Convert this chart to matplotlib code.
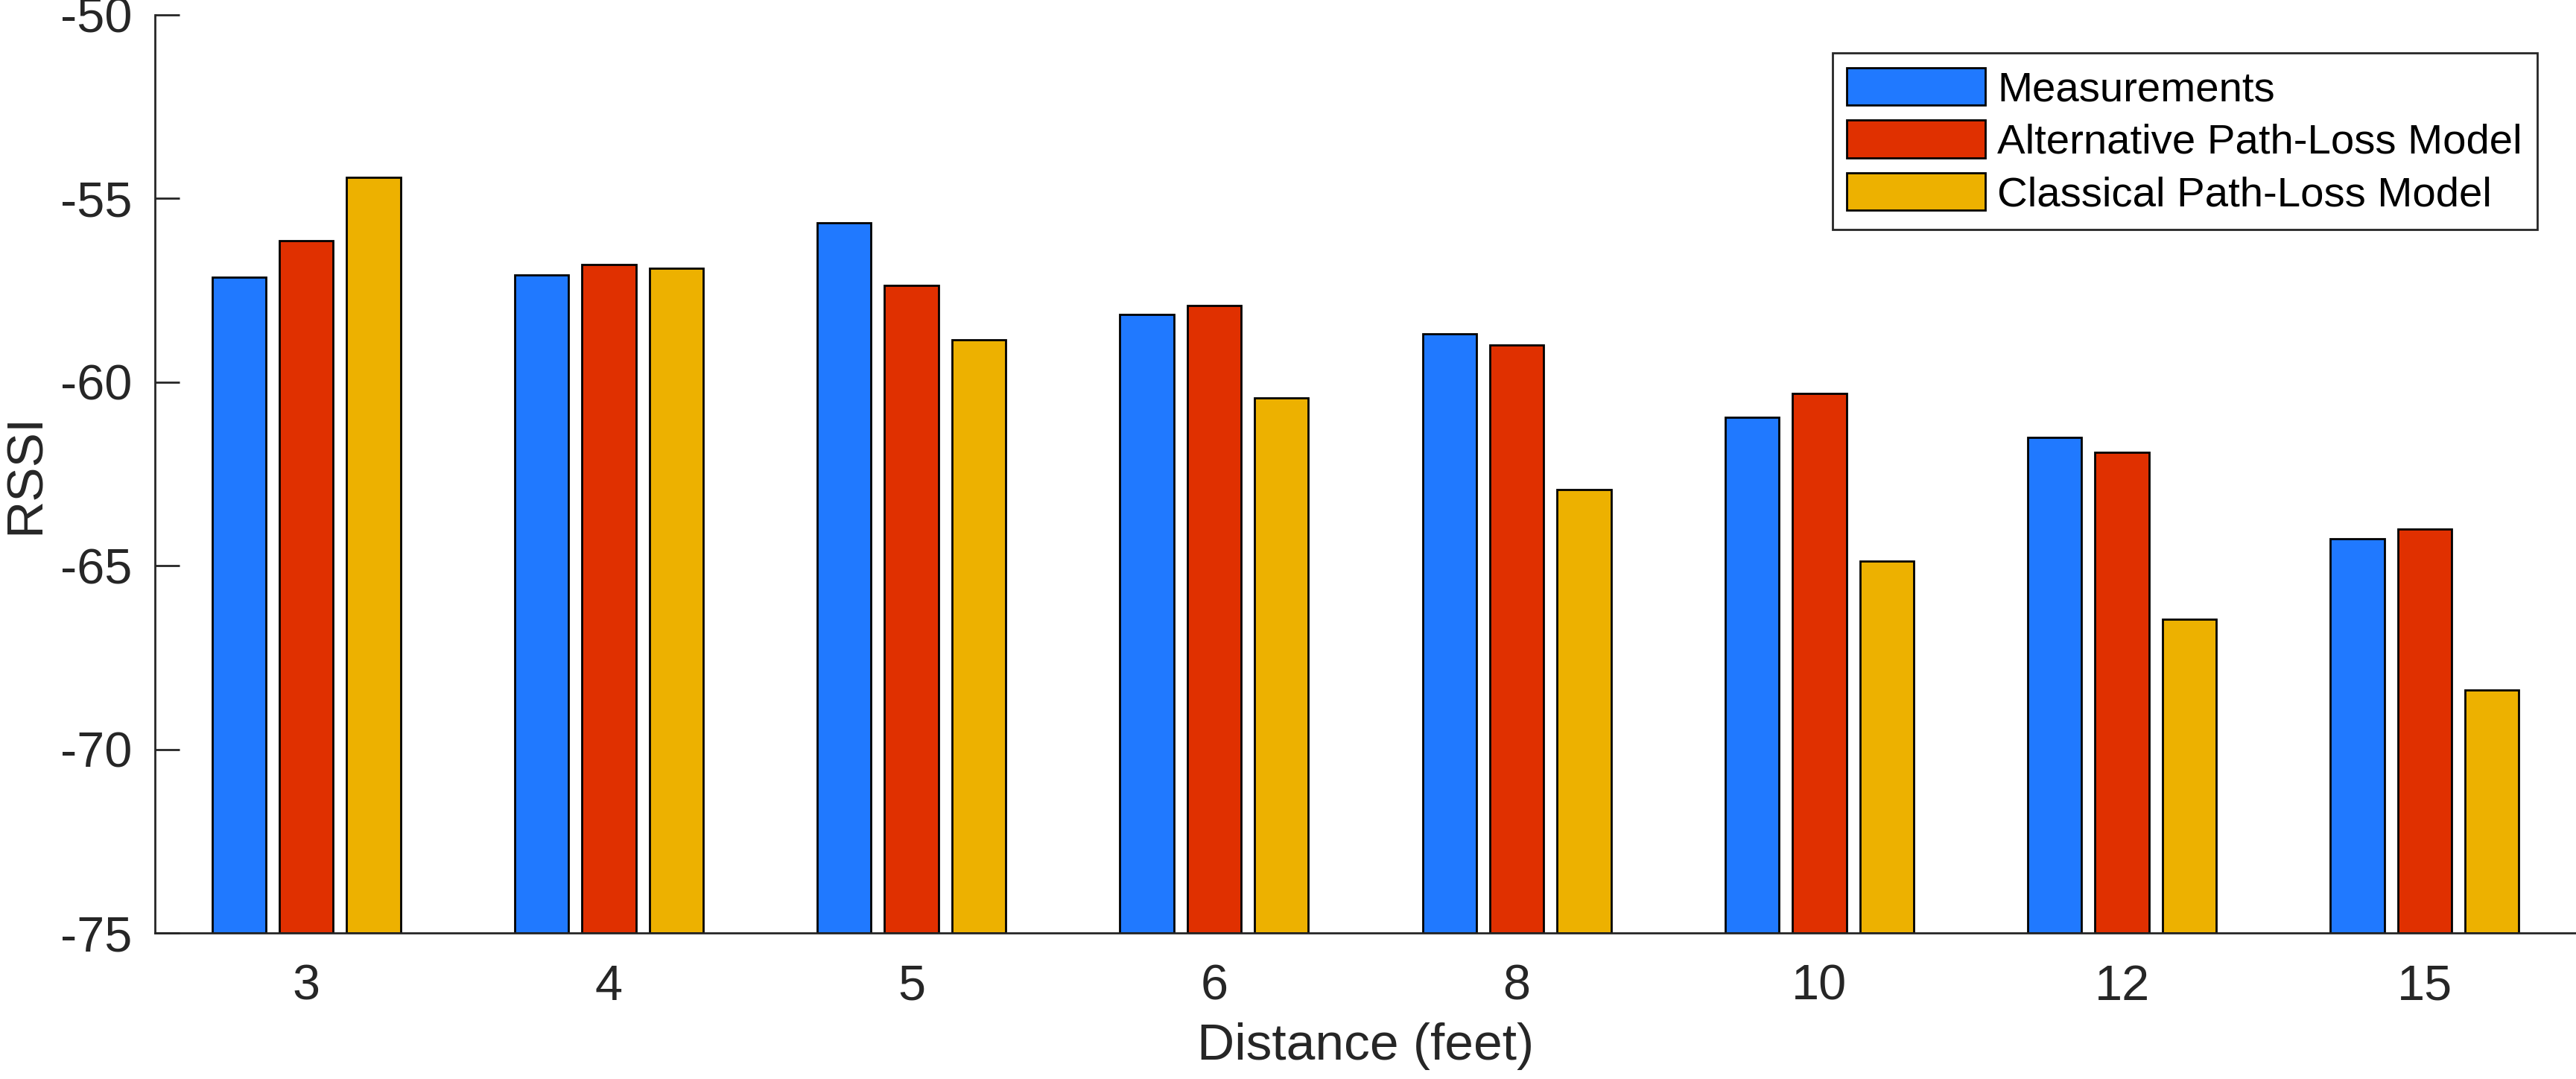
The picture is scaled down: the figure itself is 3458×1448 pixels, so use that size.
import matplotlib
matplotlib.use("Agg")
import matplotlib.pyplot as plt
import numpy as np

plt.rcParams['font.family'] = ['Liberation Sans', 'DejaVu Sans']
plt.rcParams['axes.unicode_minus'] = False

# data
distances = ['3', '4', '5', '6', '8', '10', '12', '15']
measurements = [-57.14, -57.08, -55.67, -58.16, -58.69, -60.96, -61.50, -64.26]
alternative = [-56.15, -56.80, -57.37, -57.91, -58.99, -60.31, -61.91, -64.00]
classical = [-54.43, -56.91, -58.85, -60.43, -62.93, -64.88, -66.46, -68.39]
base_value = -75

series = [measurements, alternative, classical]
labels = ["Measurements", "Alternative Path-Loss Model", "Classical Path-Loss Model"]
colors = ["#2079FF", "#E03000", "#EDB100"]
axis_color = "#262626"

W, H, dpi = 3458, 1448, 200
fig = plt.figure(figsize=(W / dpi, H / dpi), dpi=dpi)
ax = fig.add_axes([208 / W, 1 - 1252 / H, 1 - 208 / W, (1252 - 19.6) / H])

x = np.arange(1, len(distances) + 1)
offset = 0.2225
width = 0.178
for k in range(3):
    vals = np.array(series[k])
    ax.bar(x + (k - 1) * offset, vals - base_value, bottom=base_value, width=width,
           color=colors[k], edgecolor="black", linewidth=1.0, label=labels[k])

ax.set_xlim(0.5, 8.5)
ax.set_ylim(-75, -50)
ax.set_yticks([-75, -70, -65, -60, -55, -50])
ax.set_xticks(x)
ax.set_xticklabels(distances)

for side in ["top", "right"]:
    ax.spines[side].set_visible(False)
for side in ["left", "bottom"]:
    ax.spines[side].set_color(axis_color)
    ax.spines[side].set_linewidth(1.0)

ax.tick_params(axis="y", direction="in", length=12, width=1.0, color=axis_color,
               labelsize=24, labelcolor=axis_color, pad=11)
ax.tick_params(axis="x", length=0, labelsize=24, labelcolor=axis_color, pad=15)

ax.set_xlabel("Distance (feet)", fontsize=25, color=axis_color, labelpad=6)
ax.set_ylabel("RSSI", fontsize=25, color=axis_color)
ax.yaxis.set_label_coords((67 - 208) / 3250, 0.5)

leg = ax.legend(loc="upper right", bbox_to_anchor=(3405.5 / W, 1 - 70.8 / H),
                bbox_transform=fig.transFigure, borderaxespad=0, fontsize=20.3,
                handlelength=3.3, handleheight=1.0, handletextpad=0.28,
                borderpad=0.35, labelspacing=0.25, fancybox=False, framealpha=1)
leg.get_frame().set_edgecolor(axis_color)
leg.get_frame().set_linewidth(1.0)

fig.savefig("out.png", dpi=dpi)
